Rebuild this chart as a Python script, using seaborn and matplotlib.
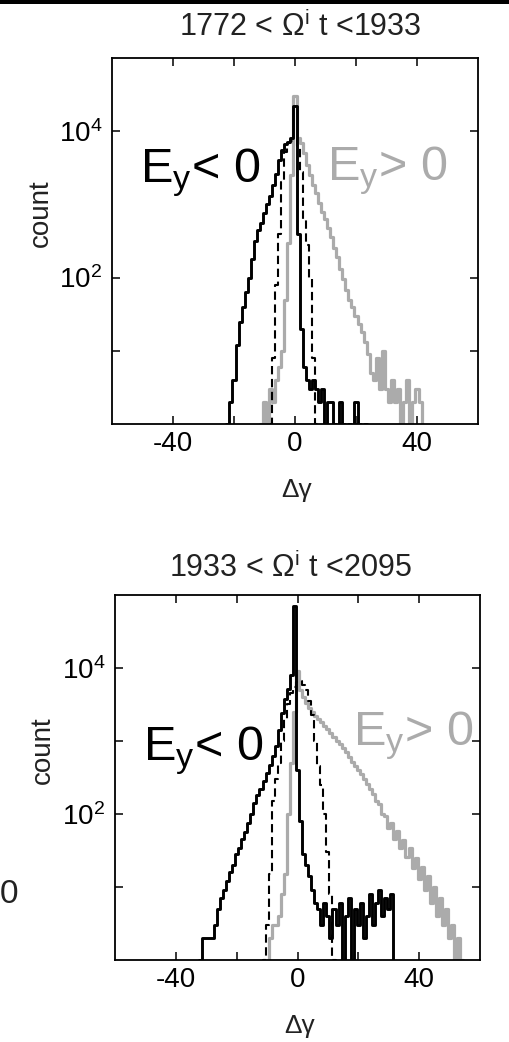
import numpy as np
import pandas as pd
import matplotlib
matplotlib.use("Agg")
import matplotlib.pyplot as plt
import seaborn as sns
from matplotlib.ticker import FixedLocator, NullFormatter
from matplotlib.patches import Rectangle

sns.set_theme(style="white")
plt.rcParams['font.family'] = ['Liberation Sans', 'DejaVu Sans']
plt.rcParams['mathtext.fontset'] = 'custom'
plt.rcParams['mathtext.rm'] = 'Liberation Sans'
plt.rcParams['mathtext.it'] = 'Liberation Sans:italic'
plt.rcParams['axes.unicode_minus'] = False

# ---------------- data (bin centres, counts per unit bin) ----------------
# Top panel: 1772 < Omega_i t < 1933
top_neg_start = -23
top_neg = [0, 1, 2, 4, 12, 25, 40, 63, 100, 180, 320, 450, 560, 760, 1000, 1300,
           1860, 2570, 4000, 5600, 6600, 7200, 8000, 22000, 400, 20, 6, 4, 3, 4,
           3, 2, 3, 1, 2, 2, 1, 0, 2, 1, 0, 1, 0, 2, 1, 0, 1, 0]
top_pos_start = -12
top_pos = [0, 1, 2, 1, 3, 2, 4, 6, 10, 50, 300, 2500, 30000, 8000, 7000, 5000, 3500,
           2500, 1860, 1410, 1050, 790, 630, 480, 355, 250, 190, 132, 95, 68, 50,
           40, 30, 23, 18, 13, 9, 5, 4, 8, 3, 10, 3, 2, 4, 2, 3, 1, 2, 4, 1, 2, 3,
           2, 0]
top_dash_start = -9
top_dash = [0, 1, 8, 80, 400, 2000, 5200, 6900, 7400, 7600, 6300, 2800, 630, 280,
            100, 8, 1, 0]

# Bottom panel: 1933 < Omega_i t < 2095
bot_neg_start = -33
bot_neg = [0, 1, 2, 2, 2, 2, 3, 5, 7, 9, 12, 16, 20, 28, 34, 45, 56, 75, 100, 140,
           180, 220, 280, 360, 470, 620, 850, 1400, 2400, 3800, 5200, 8000, 70000,
           400, 80, 28, 20, 14, 9, 6, 5, 3, 6, 4, 2, 5, 3, 6, 1, 4, 7, 1, 5, 3, 6,
           2, 4, 8, 3, 6, 9, 4, 7, 5, 8, 0]
bot_pos_start = -12
bot_pos = [0, 1, 1, 2, 3, 3, 4, 8, 15, 100, 500, 2500, 9000, 5000, 4000, 3300, 2800,
           2500, 2200, 2000, 1800, 1600, 1450, 1300, 1150, 1000, 900, 800, 700,
           600, 520, 450, 400, 350, 300, 260, 220, 190, 150, 135, 100, 95, 64, 76,
           46, 58, 34, 44, 26, 34, 18, 25, 13, 19, 9, 14, 6, 10, 4, 7, 3, 5, 2, 3,
           1, 2, 1, 0]
bot_dash_start = -12
bot_dash = [0, 1, 3, 15, 150, 300, 500, 1000, 2000, 3200, 4500, 5500, 6500, 6600,
            5800, 5000, 3500, 2300, 1000, 450, 250, 100, 30, 8, 1, 0]

xtick_major = [-40, 0, 40]
xtick_labels = ['-40', '0', '40']
xtick_minor = [-20, 20]
ytick_major = [1e2, 1e4]
ytick_labels = ['$10^2$', '$10^4$']
ytick_minor_top = [1e1]
ytick_minor_bot = [1e1, 1e3]
titles = ['1772 < Ω$^{\\mathrm{i}}$ t <1933', '1933 < Ω$^{\\mathrm{i}}$ t <2095']

GRAY = '#ababab'
W, H = 509, 1042
fig = plt.figure(figsize=(W / 100, H / 100), dpi=100)
fig.patch.set_facecolor('white')


def fx(px):
    return px / W


def fy(py):
    return 1 - py / H


def hist(ax, start, counts, **kw):
    centres = start + np.arange(len(counts))
    df = pd.DataFrame({'dg': centres, 'n': counts})
    edges = np.append(centres - 0.5, centres[-1] + 0.5).tolist()
    sns.histplot(data=df, x='dg', weights='n', bins=edges, element='step',
                 fill=False, ax=ax, **kw)


panels = [
    dict(box=(112, 58, 478, 424), neg=(top_neg_start, top_neg), pos=(top_pos_start, top_pos),
         dash=(top_dash_start, top_dash), yminor=ytick_minor_top, title=titles[0],
         title_xy=(300, 36), count_xy=(41, 213), dg_xy=(297, 497),
         lneg=(140, 182), lpos=(327, 180)),
    dict(box=(115, 595, 480, 960), neg=(bot_neg_start, bot_neg), pos=(bot_pos_start, bot_pos),
         dash=(bot_dash_start, bot_dash), yminor=ytick_minor_bot, title=titles[1],
         title_xy=(291, 577), count_xy=(43, 750), dg_xy=(300, 1033),
         lneg=(143, 760), lpos=(353, 745)),
]

for p in panels:
    l, t, r, b = p['box']
    ax = fig.add_axes([fx(l), fy(b), (r - l) / W, (b - t) / H])
    ax.set_facecolor('white')
    hist(ax, *p['pos'], color=GRAY, linewidth=2.3)
    hist(ax, *p['dash'], color='black', linewidth=1.5, linestyle=(0, (4, 2.2)))
    hist(ax, *p['neg'], color='black', linewidth=2.1)
    ax.set_yscale('log')
    ax.set_xlim(-60, 60)
    ax.set_ylim(1, 1e5)
    ax.set_xlabel('')
    ax.set_ylabel('')
    ax.set_xticks(xtick_major, xtick_labels)
    ax.set_xticks(xtick_minor, minor=True)
    ax.set_yticks(ytick_major, ytick_labels)
    ax.yaxis.set_minor_locator(FixedLocator(p['yminor']))
    ax.yaxis.set_minor_formatter(NullFormatter())
    ax.tick_params(which='both', direction='in', length=6, width=1.1,
                   top=True, right=True, bottom=True, left=True, colors='black')
    ax.tick_params(axis='both', which='major', labelsize=20)
    ax.tick_params(axis='x', pad=5)
    ax.tick_params(axis='y', pad=7)
    for s in ax.spines.values():
        s.set_color('black')
        s.set_linewidth(1.3)
    fig.text(fx(p['title_xy'][0]), fy(p['title_xy'][1]), p['title'], fontsize=22,
             ha='center', va='baseline', color='#222222')
    fig.text(fx(p['count_xy'][0]), fy(p['count_xy'][1]), 'count', fontsize=20,
             rotation=90, ha='center', va='center', color='#222222')
    fig.text(fx(p['dg_xy'][0]), fy(p['dg_xy'][1]), 'Δγ', fontsize=19,
             ha='center', va='baseline', color='#222222')
    fig.text(fx(p['lneg'][0]), fy(p['lneg'][1]), 'E$_\\mathrm{y}$< 0', fontsize=35,
             ha='left', va='baseline', color='black')
    fig.text(fx(p['lpos'][0]), fy(p['lpos'][1]), 'E$_\\mathrm{y}$> 0', fontsize=35,
             ha='left', va='baseline', color=GRAY)

# remnants of neighbouring panels
fig.patches.append(Rectangle((0, fy(4)), 1, 4 / H, transform=fig.transFigure,
                             facecolor='black', edgecolor='none'))
fig.text(fx(0), fy(903), '0', fontsize=24, ha='left', va='baseline', color='#222222')

fig.savefig('out.png', dpi=100, facecolor='white')
